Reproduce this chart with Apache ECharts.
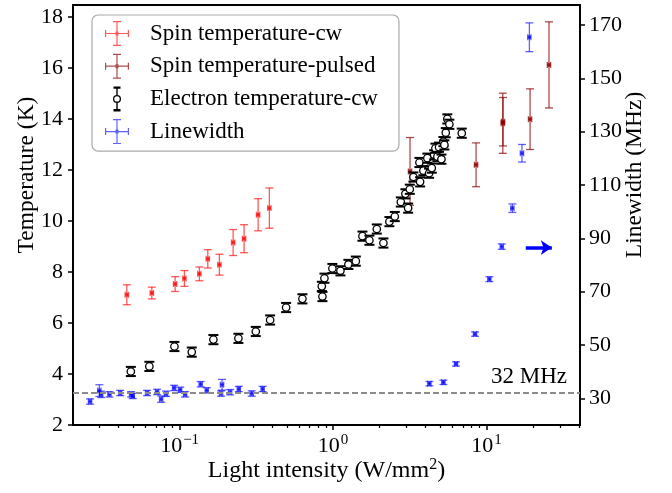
<!DOCTYPE html>
<html>
<head>
<meta charset="utf-8">
<script src="https://cdn.jsdelivr.net/npm/echarts@6/dist/echarts.min.js"></script>
<style>
  html, body { margin: 0; padding: 0; background: #fff; }
  #chart { width: 672px; height: 493px; }
</style>
</head>
<body>
<div id="chart"></div>
<script>
const FONT = 'Liberation Serif'

// Spin temperature-cw (red)
const spinCwX = [0.0453, 0.0659, 0.0935, 0.1075, 0.1345, 0.1526, 0.1816, 0.2232, 0.263, 0.3246, 0.3844]
const spinCwT = [7.11, 7.18, 7.53, 7.75, 7.93, 8.52, 8.29, 9.16, 9.31, 10.25, 10.51]
const spinCwErr = [0.39, 0.23, 0.29, 0.31, 0.27, 0.36, 0.41, 0.51, 0.55, 0.63, 0.79]

// Spin temperature-pulsed (dark red)
const spinPulsedX = [3.17, 8.54, 12.75, 12.8, 19.2, 25.5]
const spinPulsedT = [11.95, 12.21, 13.84, 13.9, 14.0, 16.13]
const spinPulsedErr = [1.33, 0.86, 1.18, 0.95, 1.19, 1.69]

// Electron temperature-cw (black open circles)
const electronX = [0.0481, 0.0635, 0.0925, 0.120, 0.166, 0.2415, 0.3135, 0.3888, 0.494, 0.631,
  0.852, 0.844, 0.878, 0.989, 1.116, 1.258, 1.406, 1.553, 1.724, 1.926,
  2.127, 2.327, 2.523, 2.761, 2.958, 3.081, 3.160, 3.336, 3.688, 3.65,
  3.873, 4.113, 4.221, 4.395, 4.55, 4.64, 4.78, 4.90, 5.08, 5.23,
  5.31, 5.42, 5.55, 5.72, 6.89]
const electronT = [4.10, 4.30, 5.08, 4.86, 5.35, 5.40, 5.67, 6.12, 6.61, 6.95,
  7.04, 7.44, 7.76, 8.14, 8.05, 8.30, 8.43, 9.41, 9.25, 9.69,
  9.14, 9.98, 10.18, 10.75, 11.07, 10.51, 11.25, 11.73, 11.54, 12.30,
  11.98, 12.47, 11.88, 12.08, 12.60, 12.86, 12.53, 12.90, 12.43, 13.12,
  12.99, 13.47, 14.01, 13.80, 13.45]
const electronErr = 0.18

// Linewidth (blue, right axis, MHz)
const lwX = [0.0261, 0.0300, 0.0308, 0.0349, 0.0410, 0.0483, 0.0495, 0.0614, 0.0713, 0.0758,
  0.0817, 0.0921, 0.1008, 0.1086, 0.1371, 0.1503, 0.189, 0.1862, 0.2133, 0.243,
  0.295, 0.3474,
  4.24, 5.23, 6.32, 8.41, 10.43, 12.56, 14.72, 17.0, 19.0]
const lwMHz = [28.8, 32.9, 31.5, 31.5, 32.0, 31.5, 30.9, 32.0, 32.4, 29.7,
  31.7, 33.9, 33.2, 31.5, 35.3, 33.0, 35.1, 31.8, 32.3, 33.5,
  31.8, 33.5,
  35.5, 36.0, 42.9, 54.1, 74.7, 86.9, 101.3, 121.9, 165.4]
const lwErr = [1.0, 2.2, 1.2, 1.0, 1.0, 1.0, 1.0, 1.0, 1.0, 1.2,
  1.0, 1.0, 1.0, 1.0, 1.0, 1.0, 2.0, 1.0, 1.0, 1.0,
  1.0, 1.0,
  0.8, 0.8, 0.8, 0.8, 0.9, 1.0, 1.6, 3.3, 5.4]

const xErrFrac = 0.025
const refLineMHz = 32
const arrowFrom = [18.0, 8.96]
const arrowTo = [26.6, 8.96]

const xMajor = [0.1, 1, 10]
const xMinor = [0.03, 0.04, 0.05, 0.06, 0.07, 0.08, 0.09,
  0.2, 0.3, 0.4, 0.5, 0.6, 0.7, 0.8, 0.9,
  2, 3, 4, 5, 6, 7, 8, 9, 20, 30, 40]
const tempTicks = [2, 4, 6, 8, 10, 12, 14, 16, 18]
const lwTicks = [30, 50, 70, 90, 110, 130, 150, 170]

const COLORS = {
  cw: 'rgba(255,0,0,0.65)',
  pulsed: 'rgba(139,0,0,0.7)',
  electron: '#000000',
  lw: 'rgba(0,0,255,0.62)',
}

const zip = (xs, ys, es) => xs.map((x, i) => [x, ys[i], Array.isArray(es) ? es[i] : es])

function crossRenderer(color) {
  return (params, api) => {
    const x = api.value(0)
    const y = api.value(1)
    const e = api.value(2)
    const c = api.coord([x, y])
    const top = api.coord([x, y + e])
    const bot = api.coord([x, y - e])
    const l = api.coord([x * (1 - xErrFrac), y])
    const r = api.coord([x * (1 + xErrFrac), y])
    const seg = (x1, y1, x2, y2) => ({
      type: 'line', shape: { x1, y1, x2, y2 }, style: { stroke: color, lineWidth: 1.3, fill: null },
    })
    return {
      type: 'group',
      children: [
        seg(c[0], top[1], c[0], bot[1]),
        seg(c[0] - 4, top[1], c[0] + 4, top[1]),
        seg(c[0] - 4, bot[1], c[0] + 4, bot[1]),
        seg(l[0], c[1], r[0], c[1]),
        seg(l[0], c[1] - 3, l[0], c[1] + 3),
        seg(r[0], c[1] - 3, r[0], c[1] + 3),
        { type: 'rect', shape: { x: c[0] - 1.5, y: c[1] - 2, width: 3, height: 4 }, style: { fill: color } },
      ],
    }
  }
}

function electronRenderer(params, api) {
  const x = api.value(0)
  const y = api.value(1)
  const e = api.value(2)
  const c = api.coord([x, y])
  const top = api.coord([x, y + e])
  const bot = api.coord([x, y - e])
  const st = { stroke: '#000', lineWidth: 2, fill: null }
  return {
    type: 'group',
    children: [
      { type: 'line', shape: { x1: c[0], y1: top[1], x2: c[0], y2: bot[1] }, style: { ...st, lineWidth: 1.3 } },
      { type: 'line', shape: { x1: c[0] - 5, y1: top[1], x2: c[0] + 5, y2: top[1] }, style: st },
      { type: 'line', shape: { x1: c[0] - 5, y1: bot[1], x2: c[0] + 5, y2: bot[1] }, style: st },
      { type: 'circle', shape: { cx: c[0], cy: c[1], r: 3.7 }, style: { fill: '#fff', stroke: '#000', lineWidth: 1.3 } },
    ],
  }
}

// legend glyphs: error-bar crosses, padded to a 40x25 box so they keep their shape
const corners = 'M0 0h0.01v0.01h-0.01zM39.99 24.99h0.01v0.01h-0.01z'
const crossIcon = 'path://' + corners +
  'M11.4 0h1.2v25h-1.2zM8 0h8v1.2h-8zM8 23.8h8v1.2h-8zM0 11.9h24v1.2h-24zM0 9h1.2v7h-1.2zM22.8 9h1.2v7h-1.2zM10.5 10.5h3v4h-3z'
const electronIcon = 'path://' + corners +
  'M8.5 0h7v2.4h-7zM8.5 22.6h7v2.4h-7zM11.3 0h1.4v8.5h-1.4zM11.3 16.5h1.4v8.5h-1.4z' +
  'M16 12.5A4 4 0 1 1 8 12.5A4 4 0 1 1 16 12.5Z' +
  'M14.7 12.5A2.7 2.7 0 1 0 9.3 12.5A2.7 2.7 0 1 0 14.7 12.5Z'

const chart = echarts.init(document.getElementById('chart'))

const axisLine = { show: true, lineStyle: { color: '#000', width: 1.8 } }
const labelStyle = { color: '#000', fontSize: 22, fontFamily: FONT }
const nameStyle = { color: '#000', fontSize: 23.5, fontFamily: FONT }

const option = {
  animation: false,
  backgroundColor: '#fff',
  grid: {
    left: 73, right: 92, top: 5, bottom: 68,
    show: true, borderColor: '#000', borderWidth: 1.8,
    outerBoundsMode: 'none',
  },
  legend: {
    data: [
      { name: 'Spin temperature-cw', icon: crossIcon },
      { name: 'Spin temperature-pulsed', icon: crossIcon },
      { name: 'Electron temperature-cw', icon: electronIcon },
      { name: 'Linewidth', icon: crossIcon },
    ],
    orient: 'vertical',
    left: 92,
    top: 15,
    padding: [6, 21, 7, 13],
    itemWidth: 40,
    itemHeight: 25,
    itemGap: 7.7,
    backgroundColor: '#fff',
    borderColor: '#aaaaaa',
    borderWidth: 1.2,
    borderRadius: 6,
    textStyle: { color: '#000', fontSize: 23, fontFamily: FONT, lineHeight: 25, width: 227, overflow: 'none' },
  },
  xAxis: [
    {
      type: 'log', logBase: 10, min: 0.0202, max: 40.6,
      axisLine,
      splitLine: { show: false },
      axisTick: { show: true, length: 5, lineStyle: { color: '#000', width: 1.5 }, customValues: xMajor },
      axisLabel: {
        ...labelStyle, margin: 8, customValues: xMajor,
        formatter: (v) => '10{sup|' + String(Math.round(Math.log10(v))).replace('-', '\u2212') + '}',
        rich: {
          sup: { fontSize: 15, fontFamily: FONT, color: '#000', verticalAlign: 'top', padding: [0, 0, 12, 1] },
        },
      },
      name: 'Light intensity (W/mm{sup|2})',
      nameLocation: 'middle',
      nameMoveOverlap: false,
      nameGap: 32,
      nameTextStyle: {
        ...nameStyle,
        fontSize: 24,
        rich: { sup: { fontSize: 16, fontFamily: FONT, color: '#000', padding: [0, 0, 12, 0] } },
      },
    },
    {
      type: 'log', logBase: 10, min: 0.0202, max: 40.6, position: 'bottom',
      axisLine: { show: false },
      splitLine: { show: false },
      axisLabel: { show: false },
      axisTick: { show: true, length: 3, lineStyle: { color: '#000', width: 1.2 }, customValues: xMinor },
    },
  ],
  yAxis: [
    {
      type: 'value', min: 2, max: 18.48, position: 'left',
      axisLine,
      splitLine: { show: false },
      axisTick: { show: true, length: 5, lineStyle: { color: '#000', width: 1.5 }, customValues: tempTicks },
      axisLabel: { ...labelStyle, margin: 10, customValues: tempTicks },
      name: 'Temperature (K)',
      nameLocation: 'middle',
      nameMoveOverlap: false,
      nameRotate: 90,
      nameGap: 34,
      nameTextStyle: { ...nameStyle, padding: [0, 0, 0, 80] },
    },
    {
      type: 'value', min: 20, max: 177.5, position: 'right',
      axisLine,
      splitLine: { show: false },
      axisTick: { show: true, length: 5, lineStyle: { color: '#000', width: 1.5 }, customValues: lwTicks },
      axisLabel: { ...labelStyle, margin: 9, customValues: lwTicks },
      name: 'Linewidth (MHz)',
      nameLocation: 'middle',
      nameMoveOverlap: false,
      nameRotate: 90,
      nameGap: 43,
      nameTextStyle: { ...nameStyle, padding: [0, 0, 0, 80] },
    },
  ],
  series: [
    {
      name: 'Linewidth',
      type: 'custom',
      yAxisIndex: 1,
      itemStyle: { color: COLORS.lw },
      renderItem: crossRenderer(COLORS.lw),
      data: zip(lwX, lwMHz, lwErr),
    },
    {
      name: 'Spin temperature-cw',
      type: 'custom',
      itemStyle: { color: COLORS.cw },
      renderItem: crossRenderer(COLORS.cw),
      data: zip(spinCwX, spinCwT, spinCwErr),
    },
    {
      name: 'Spin temperature-pulsed',
      type: 'custom',
      itemStyle: { color: COLORS.pulsed },
      renderItem: crossRenderer(COLORS.pulsed),
      data: zip(spinPulsedX, spinPulsedT, spinPulsedErr),
    },
    {
      name: 'Electron temperature-cw',
      type: 'custom',
      itemStyle: { color: COLORS.electron },
      renderItem: electronRenderer,
      data: zip(electronX, electronT, electronErr),
    },
    {
      name: 'ref',
      type: 'line',
      yAxisIndex: 1,
      data: [],
      markLine: {
        silent: true,
        symbol: 'none',
        lineStyle: { color: '#8c8c8c', type: [6, 3], width: 1.8 },
        label: {
          show: true, position: 'insideEndTop', formatter: refLineMHz + ' MHz',
          color: '#000', fontSize: 23, fontFamily: FONT, padding: [0, 8, 0, 0],
        },
        data: [{ yAxis: refLineMHz }],
      },
    },
    {
      name: 'arrow',
      type: 'line',
      data: [],
      markLine: {
        silent: true,
        symbol: ['none', 'arrow'],
        symbolSize: [11, 11],
        lineStyle: { color: '#0000ff', type: 'solid', width: 3.5 },
        label: { show: false },
        data: [[{ coord: arrowFrom }, { coord: arrowTo }]],
      },
    },
  ],
}

chart.setOption(option)
</script>
</body>
</html>
